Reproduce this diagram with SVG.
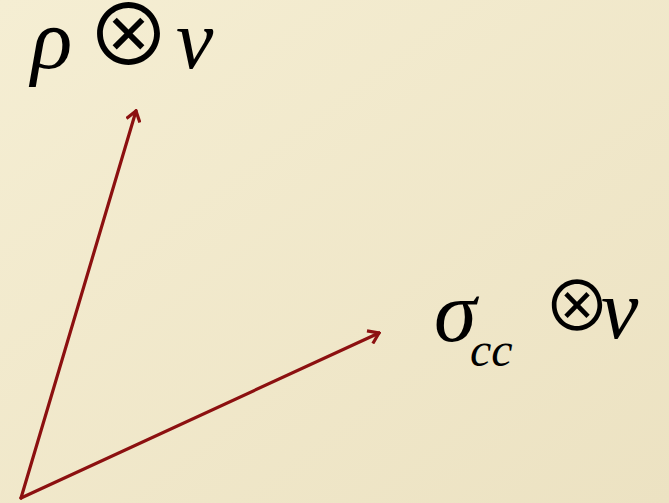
<svg xmlns="http://www.w3.org/2000/svg" width="669" height="503" viewBox="0 0 669 503">
<defs>
<linearGradient id="bg" x1="0" y1="0" x2="1" y2="1">
<stop offset="0" stop-color="#f5eed3"/>
<stop offset="1" stop-color="#ece2c2"/>
</linearGradient>
<marker id="ah" viewBox="-12 -8 14 16" markerWidth="14" markerHeight="16" refX="0" refY="0" orient="auto" markerUnits="userSpaceOnUse">
<path d="M-10,-7 L0,0 L-10,7" fill="none" stroke="#8c1010" stroke-width="3.2" stroke-linejoin="miter"/>
</marker>
<style>
.m{font-family:"Liberation Serif","Times New Roman",serif;font-style:italic;fill:#000}
.o{font-family:"Noto Sans CJK SC",sans-serif;fill:#000}
.c{fill:none;stroke:#8c1010;stroke-width:3.2;stroke-linecap:round}
</style>
</defs>
<rect width="669" height="503" fill="url(#bg)"/>
<g id="connectors">
<line class="c" x1="21" y1="498" x2="136" y2="111" marker-end="url(#ah)"/>
<line class="c" x1="21" y1="498" x2="379" y2="333" marker-end="url(#ah)"/>
</g>
<g id="label-rho">
<text class="m" x="31" y="68" font-size="86">ρ</text>
<text class="o" x="86" y="66" font-size="85">⊗</text>
<text class="m" x="176" y="68" font-size="84">ν</text>
</g>
<g id="label-sigma">
<text class="m" x="434" y="341" font-size="86">σ</text>
<text class="m" x="470" y="366" font-size="48">cc</text>
<text class="o" x="543" y="331" font-size="68">⊗</text>
<text class="m" x="601" y="338" font-size="84">ν</text>
</g>
</svg>
